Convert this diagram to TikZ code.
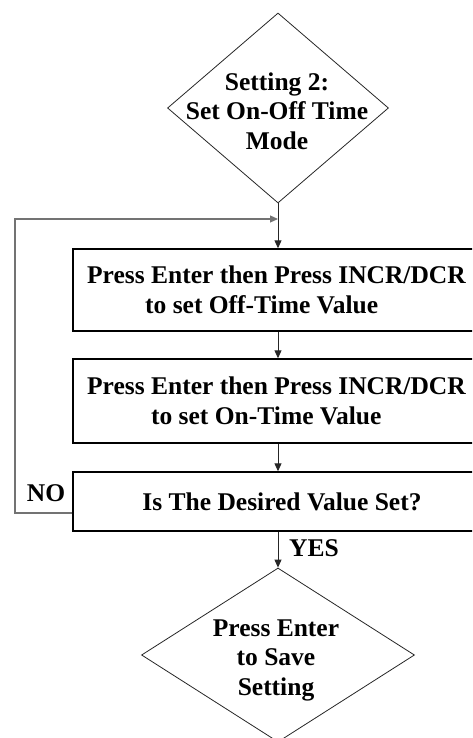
\documentclass[tikz,border=0pt]{standalone}
\usepackage{fontspec}
\setmainfont{Liberation Serif}
\usetikzlibrary{shapes.geometric,arrows.meta}
\begin{document}
\begin{tikzpicture}[x=1pt,y=-1pt,
  txt/.style={font=\fontsize{25.5}{29.5}\selectfont\bfseries, inner sep=0pt},
  procbox/.style={draw=black, line width=1.4pt, rectangle, minimum width=407pt, inner sep=0pt, txt, align=left},
  decide/.style={draw=black!85, line width=0.8pt, diamond, inner sep=0pt, aspect=1},
  arr/.style={draw=black!85, line width=0.9pt, -{Triangle[length=8pt,width=7pt]}},
  loopline/.style={draw=black!55, line width=1.1pt, -{Triangle[length=8pt,width=7pt]}}]
\useasboundingbox (0,0) rectangle (472,738);
\clip (0,0) rectangle (472,738);

% top diamond
\node[decide, minimum width=221pt, minimum height=190pt] (d1) at (278,108) {};
\node[txt, align=center] (d1t) at (277,111) {Setting 2:\\Set On-Off Time\\Mode};

% boxes
\node[procbox, minimum height=82pt] (b1) at (276.5,290)
  {Press Enter then Press INCR/DCR\\\hspace*{58pt}to set Off-Time Value};
\node[procbox, minimum height=84pt] (b2) at (276.5,401)
  {Press Enter then Press INCR/DCR\\\hspace*{64pt}to set On-Time Value};
\node[procbox, minimum height=59pt] (b3) at (276.5,501.5)
  {\hspace*{11pt}Is The Desired Value Set?};

% bottom diamond
\node[decide, minimum width=273pt, minimum height=174pt] (d2) at (278,655) {};
\node[txt, align=center] (d2t) at (276,660) {Press Enter\\to Save\\Setting};

% connectors
\coordinate (join) at (278,219);
\coordinate (cL) at (15,513);
\draw[arr] (d1.south) -- (d1.south |- b1.north);
\draw[arr] (b1.south -| d1.south) -- (b2.north -| d1.south);
\draw[arr] (b2.south -| d1.south) -- (b3.north -| d1.south);
\draw[arr] (b3.south -| d2.north) -- (d2.north);
\draw[loopline] ([yshift=-11.5pt]b3.west) -- (cL) |- (join);

% labels
\node[txt] (no) at (46,493) {NO};
\node[txt] (yes) at (314,548) {YES};
\end{tikzpicture}
\end{document}
